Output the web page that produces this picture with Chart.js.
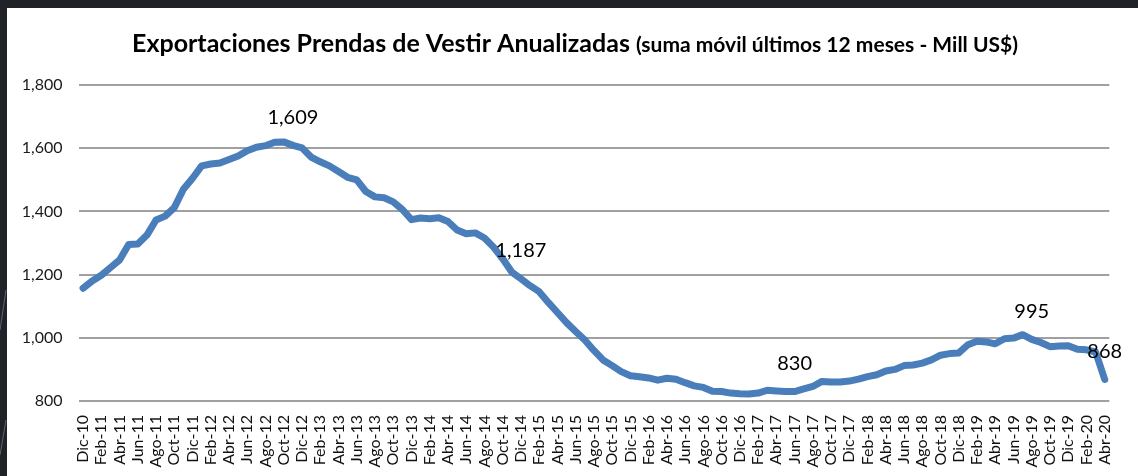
<!DOCTYPE html>
<html>
<head>
<meta charset="utf-8">
<script src="https://cdn.jsdelivr.net/npm/chart.js@4.4.1/dist/chart.umd.min.js"></script>
<style>
    html, body { margin: 0; padding: 0; background: #1f2327; overflow: hidden; }
    #wrap { position: relative; width: 1138px; height: 476px; }
</style>
</head>
<body>
<div id="wrap"><canvas id="exportChart" width="1138" height="476"></canvas></div>
<script>
// Categories (monthly, Dic-10 .. Abr-20)
const months = [
    'Dic-10',
    'Ene-11', 'Feb-11', 'Mar-11', 'Abr-11', 'May-11', 'Jun-11', 'Jul-11', 'Ago-11', 'Set-11', 'Oct-11', 'Nov-11', 'Dic-11',
    'Ene-12', 'Feb-12', 'Mar-12', 'Abr-12', 'May-12', 'Jun-12', 'Jul-12', 'Ago-12', 'Set-12', 'Oct-12', 'Nov-12', 'Dic-12',
    'Ene-13', 'Feb-13', 'Mar-13', 'Abr-13', 'May-13', 'Jun-13', 'Jul-13', 'Ago-13', 'Set-13', 'Oct-13', 'Nov-13', 'Dic-13',
    'Ene-14', 'Feb-14', 'Mar-14', 'Abr-14', 'May-14', 'Jun-14', 'Jul-14', 'Ago-14', 'Set-14', 'Oct-14', 'Nov-14', 'Dic-14',
    'Ene-15', 'Feb-15', 'Mar-15', 'Abr-15', 'May-15', 'Jun-15', 'Jul-15', 'Ago-15', 'Set-15', 'Oct-15', 'Nov-15', 'Dic-15',
    'Ene-16', 'Feb-16', 'Mar-16', 'Abr-16', 'May-16', 'Jun-16', 'Jul-16', 'Ago-16', 'Set-16', 'Oct-16', 'Nov-16', 'Dic-16',
    'Ene-17', 'Feb-17', 'Mar-17', 'Abr-17', 'May-17', 'Jun-17', 'Jul-17', 'Ago-17', 'Set-17', 'Oct-17', 'Nov-17', 'Dic-17',
    'Ene-18', 'Feb-18', 'Mar-18', 'Abr-18', 'May-18', 'Jun-18', 'Jul-18', 'Ago-18', 'Set-18', 'Oct-18', 'Nov-18', 'Dic-18',
    'Ene-19', 'Feb-19', 'Mar-19', 'Abr-19', 'May-19', 'Jun-19', 'Jul-19', 'Ago-19', 'Set-19', 'Oct-19', 'Nov-19', 'Dic-19',
    'Ene-20', 'Feb-20', 'Mar-20', 'Abr-20'
];

// Exportaciones anualizadas (Mill US$)
const exports12m = [
    1157, 1180, 1198, 1222, 1246, 1295, 1297, 1325, 1373, 1385, 1412, 1470, 1505,
    1544, 1550, 1553, 1564, 1575, 1592, 1603, 1608, 1619, 1620, 1609, 1601,
    1572, 1557, 1544, 1526, 1508, 1500, 1463, 1446, 1443, 1430, 1406, 1374,
    1379, 1377, 1380, 1368, 1341, 1329, 1332, 1316, 1287, 1250, 1208, 1187,
    1165, 1146, 1112, 1080, 1048, 1020, 993, 960, 930, 912, 893, 880,
    877, 873, 866, 872, 869, 858, 848, 843, 831, 830, 825, 823,
    822, 825, 834, 832, 830, 830, 838, 846, 862, 860, 860, 863,
    869, 877, 883, 895, 900, 912, 914, 920, 930, 945, 950, 952,
    978, 989, 987, 981, 997, 999, 1010, 995, 985, 972, 974, 975,
    964, 962, 955, 868
];

// Points that carry a data label
const labeledPoints = ['Nov-12', 'Dic-14', 'Jun-17', 'Ago-19', 'Abr-20'];

const yTicks = [800, 1000, 1200, 1400, 1600, 1800];

const titleMain = 'Exportaciones Prendas de Vestir Anualizadas ';
const titleSub = '(suma móvil últimos 12 meses - Mill US$)';

const FONT = 'Lato, "Open Sans", sans-serif';

// Dark frame + white panel
const backgroundPlugin = {
    id: 'background',
    beforeDraw(chart) {
        const ctx = chart.ctx;
        ctx.save();
        ctx.fillStyle = '#1f2327';
        ctx.fillRect(0, 0, chart.width, chart.height);
        ctx.fillStyle = '#ffffff';
        ctx.fillRect(7, 8, chart.width - 7, chart.height - 8);
        ctx.strokeStyle = '#5a6670';
        ctx.lineWidth = 1;
        ctx.beginPath();
        ctx.moveTo(0, 330); ctx.lineTo(6, 290);
        ctx.moveTo(0, 455); ctx.lineTo(6, 420);
        ctx.stroke();
        ctx.restore();
    }
};

// Title with two font sizes
const titlePlugin = {
    id: 'twoPartTitle',
    afterDraw(chart) {
        const ctx = chart.ctx;
        ctx.save();
        ctx.fillStyle = '#000000';
        ctx.textBaseline = 'alphabetic';
        ctx.textAlign = 'left';
        const mainFont = 'bold 25px ' + FONT;
        const subFont = 'bold 21px ' + FONT;
        ctx.font = mainFont;
        const w1 = ctx.measureText(titleMain).width;
        ctx.font = subFont;
        const w2 = ctx.measureText(titleSub).width;
        let x = 575 - (w1 + w2) / 2;
        ctx.font = mainFont;
        ctx.fillText(titleMain, x, 52);
        ctx.font = subFont;
        ctx.fillText(titleSub, x + w1, 52);
        ctx.restore();
    }
};

// Value labels above selected points
const pointLabelPlugin = {
    id: 'pointLabels',
    afterDatasetsDraw(chart) {
        const ctx = chart.ctx;
        const meta = chart.getDatasetMeta(0);
        ctx.save();
        ctx.font = '20px ' + FONT;
        ctx.fillStyle = '#000000';
        ctx.textAlign = 'center';
        ctx.textBaseline = 'middle';
        labeledPoints.forEach(name => {
            const i = months.indexOf(name);
            const pt = meta.data[i];
            ctx.fillText(exports12m[i].toLocaleString('en-US'), pt.x, pt.y - 28);
        });
        ctx.restore();
    }
};

new Chart(document.getElementById('exportChart'), {
    type: 'line',
    data: {
        labels: months,
        datasets: [{
            data: exports12m,
            borderColor: '#4a7ebb',
            borderWidth: 7,
            borderJoinStyle: 'round',
            borderCapStyle: 'round',
            pointRadius: 0,
            tension: 0,
            fill: false
        }]
    },
    options: {
        responsive: false,
        animation: false,
        layout: {
            padding: { top: 85, right: 15.5, bottom: 0, left: 0 }
        },
        plugins: {
            legend: { display: false },
            title: { display: false },
            tooltip: { enabled: false }
        },
        scales: {
            x: {
                offset: true,
                grid: { display: false, drawTicks: false },
                border: { display: false },
                afterFit(scale) { scale.height = 75; },
                ticks: {
                    autoSkip: false,
                    minRotation: 90,
                    maxRotation: 90,
                    padding: 14,
                    color: '#111111',
                    font: { family: FONT, size: 16 },
                    callback: function (val, index) {
                        return index % 2 === 0 ? months[index] : null;
                    }
                }
            },
            y: {
                min: 800,
                max: 1800,
                afterFit(scale) { scale.width = 78.5; },
                afterBuildTicks(scale) {
                    scale.ticks = yTicks.map(v => ({ value: v }));
                },
                grid: { color: '#a0a0a0', lineWidth: 2, drawTicks: false },
                border: { display: false },
                ticks: {
                    padding: 16,
                    color: '#1a1a1a',
                    font: { family: FONT, size: 16 },
                    callback: v => v.toLocaleString('en-US')
                }
            }
        }
    },
    plugins: [backgroundPlugin, titlePlugin, pointLabelPlugin]
});
</script>
</body>
</html>
